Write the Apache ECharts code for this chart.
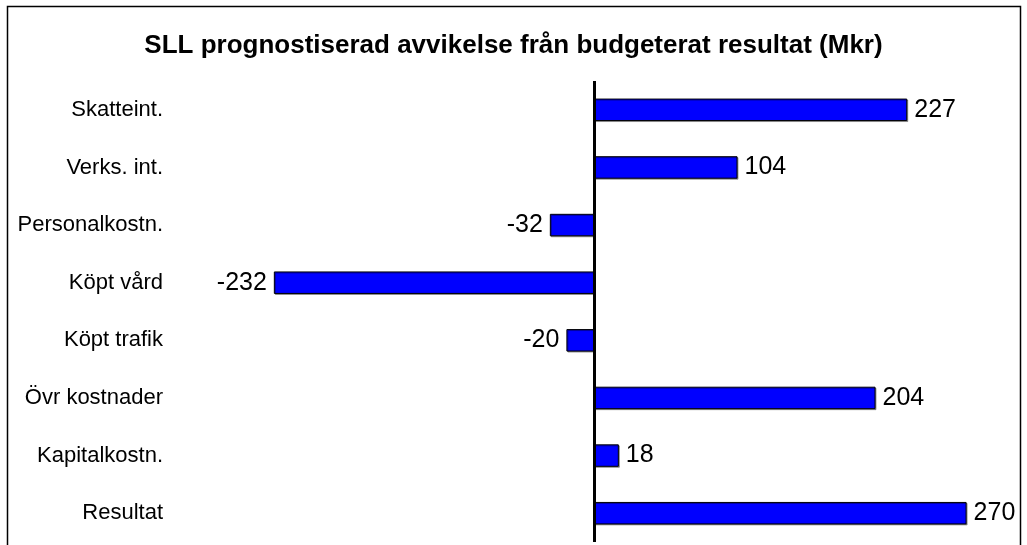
<!DOCTYPE html>
<html>
<head>
<meta charset="utf-8">
<script src="https://cdn.jsdelivr.net/npm/echarts@6/dist/echarts.min.js"></script>
<style>
  html, body { margin: 0; padding: 0; background: #fff; }
  #chart { width: 1027px; height: 545px; }
</style>
</head>
<body>
<div id="chart"></div>
<script>
// kategorier uppifrån och ned
var kategorier = ['Skatteint.', 'Verks. int.', 'Personalkostn.', 'Köpt vård', 'Köpt trafik', 'Övr kostnader', 'Kapitalkostn.', 'Resultat'];
var avvikelse = [227, 104, -32, -232, -20, 204, 18, 270];

var myChart = echarts.init(document.getElementById('chart'));
myChart.setOption({
    backgroundColor: '#fff',
    animation: false,
    title: {
        text: 'SLL prognostiserad avvikelse från budgeterat resultat (Mkr)',
        left: 'center',
        top: 28,
        textStyle: {
            fontFamily: 'Liberation Sans, Arial',
            fontSize: 26,
            fontWeight: 'bold',
            color: '#000'
        }
    },
    graphic: [{
        type: 'rect',
        shape: { x: 7.5, y: 6.5, width: 1013, height: 560 },
        style: { fill: 'none', stroke: '#000', lineWidth: 1.5 },
        silent: true
    }],
    grid: {
        top: 81,
        bottom: 3,
        left: 180,
        right: 19
    },
    xAxis: {
        type: 'value',
        min: -300,
        max: 300,
        show: false
    },
    yAxis: {
        type: 'category',
        data: kategorier,
        inverse: true,
        axisLine: { show: false },
        axisTick: { show: false },
        splitLine: { show: false },
        axisLabel: {
            margin: 17,
            color: '#000',
            fontFamily: 'Liberation Sans, Arial',
            fontSize: 22
        }
    },
    series: [{
        type: 'bar',
        // negativa värden: etikett till vänster
        data: avvikelse.map(function (v) {
            return v < 0 ? { value: v, label: { position: 'left' } } : v;
        }),
        barWidth: '39%',
        itemStyle: {
            color: '#0000ff',
            borderColor: '#000',
            borderWidth: 1,
            shadowColor: 'rgba(0,0,0,0.35)',
            shadowOffsetX: 1,
            shadowOffsetY: 1
        },
        label: {
            show: true,
            position: 'right',
            distance: 7,
            color: '#000',
            fontFamily: 'Liberation Sans, Arial',
            fontSize: 25
        },
        markLine: {
            silent: true,
            symbol: 'none',
            label: { show: false },
            lineStyle: { color: '#000', width: 3, type: 'solid' },
            data: [{ xAxis: 0 }]
        }
    }]
});
</script>
</body>
</html>
